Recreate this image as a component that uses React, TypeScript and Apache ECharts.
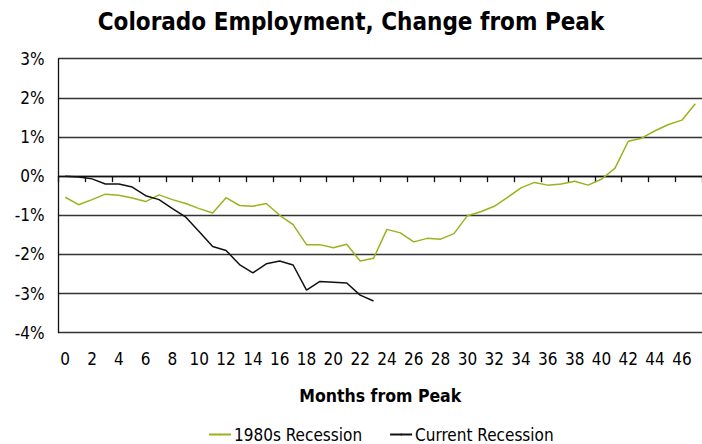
import React, { useEffect, useRef } from "react";
import * as echarts from "echarts";

const months: string[] = Array.from({ length: 48 }, (_, i) => String(i));

const recession1980s: number[] = [
  -0.54, -0.73, -0.6, -0.46, -0.49, -0.56, -0.65, -0.48, -0.6, -0.7, -0.83, -0.94,
  -0.55, -0.75, -0.77, -0.7, -1.0, -1.24, -1.75, -1.75, -1.83, -1.74, -2.17, -2.1,
  -1.36, -1.45, -1.68, -1.59, -1.61, -1.47, -1.01, -0.91, -0.77, -0.54, -0.3, -0.16,
  -0.23, -0.2, -0.13, -0.23, -0.08, 0.2, 0.89, 0.97, 1.16, 1.32, 1.43, 1.85,
];

const currentRecession: number[] = [
  0, -0.02, -0.07, -0.2, -0.2, -0.28, -0.5, -0.6, -0.83, -1.05, -1.42, -1.8,
  -1.9, -2.26, -2.47, -2.24, -2.17, -2.27, -2.91, -2.69, -2.71, -2.73, -3.04, -3.19,
];

const seriesNames = ["1980s Recession", "Current Recession"];
const titleText = "Colorado Employment, Change from Peak";
const xAxisName = "Months from Peak";

const FONT = '"Liberation Sans Narrow", "Arial Narrow", "DejaVu Sans Condensed", sans-serif';
const YELLOW = "#9fb01e";
const BLACK = "#111111";
const GRID = "#333333";

export default function App() {
  const ref = useRef<HTMLDivElement>(null);
  useEffect(() => {
    document.body.style.margin = "0";
    if (!ref.current) return;
    const chart = echarts.init(ref.current, undefined, { renderer: "svg" });
    chart.setOption({
      animation: false,
      textStyle: { fontFamily: FONT },
      title: {
        text: titleText,
        left: "center",
        top: 5,
        textStyle: { fontFamily: FONT, fontSize: 24, fontWeight: "bold", color: "#000" },
      },
      legend: {
        top: 426,
        left: 208,
        padding: 0,
        itemWidth: 22,
        itemHeight: 2,
        itemGap: 27,
        textStyle: { fontFamily: FONT, fontSize: 17, lineHeight: 17, color: "#000", padding: [0, 0, 0, -2] },
        data: seriesNames,
      },
      grid: { left: 58.5, right: -8, top: 58.7, bottom: 111.3, containLabel: false },
      xAxis: [
        {
          type: "category",
          data: months,
          position: "bottom",
          boundaryGap: true,
          axisLine: { show: false, onZero: false },
          axisTick: { show: false },
          axisLabel: { interval: 1, color: "#000", fontSize: 17, fontFamily: FONT, margin: 18 },
          name: xAxisName,
          nameLocation: "middle",
          nameGap: 54,
          nameTextStyle: { fontFamily: FONT, fontSize: 17.5, fontWeight: "bold", color: "#000" },
        },
        {
          type: "category",
          data: months,
          position: "top",
          boundaryGap: true,
          axisLine: { show: true, onZero: true, lineStyle: { color: BLACK, width: 1.3 } },
          axisTick: { show: true, inside: true, interval: 1, length: 6, lineStyle: { color: BLACK, width: 1.3 } },
          axisLabel: { show: false },
        },
      ],
      yAxis: {
        type: "value",
        min: -4,
        max: 3,
        interval: 1,
        axisLine: { show: true, lineStyle: { color: BLACK, width: 1.3 } },
        axisTick: { show: false },
        axisLabel: { formatter: "{value}%", color: "#000", fontSize: 17, fontFamily: FONT, margin: 14 },
        splitLine: { show: true, lineStyle: { color: GRID, width: 1.3 } },
      },
      series: [
        {
          name: seriesNames[0],
          type: "line",
          data: recession1980s,
          symbol: "none",
          lineStyle: { color: YELLOW, width: 1.5 },
          itemStyle: { color: YELLOW },
          xAxisIndex: 0,
        },
        {
          name: seriesNames[1],
          type: "line",
          data: currentRecession,
          symbol: "none",
          lineStyle: { color: BLACK, width: 1.5 },
          itemStyle: { color: BLACK },
          xAxisIndex: 0,
        },
      ],
    });
    return () => chart.dispose();
  }, []);
  return <div ref={ref} style={{ width: 702, height: 444 }} />;
}
